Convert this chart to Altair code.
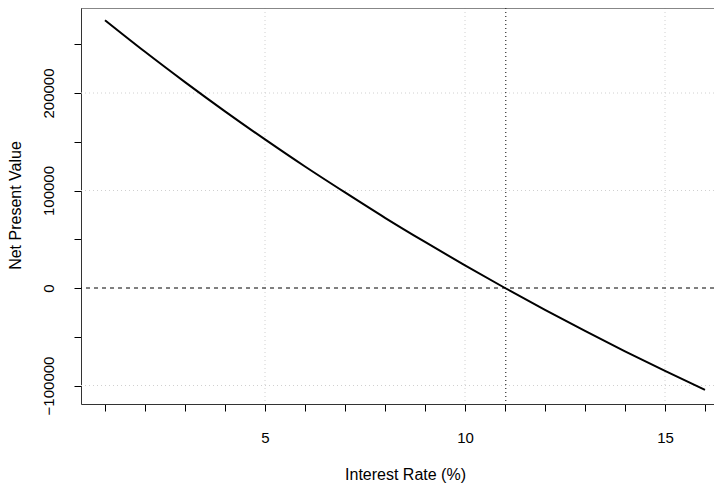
import altair as alt
import pandas as pd

# Data
rates = list(range(1, 17))
npv = [274700, 242300, 211200, 181200, 152400, 124600, 98000, 72000,
       47200, 23200, 0, -22400, -44000, -64900, -85000, -104500]
irr = [11.02]
zero_line = [0]
x_tick_values = list(range(1, 17))
y_tick_values = [-100000, -50000, 0, 50000, 100000, 150000, 200000, 250000]
x_grid = [5, 10, 15]
y_grid = [-100000, 100000, 200000]

W, H = 633, 396
FONT = "Liberation Sans"
LFS = 15
TFS = 16

df = pd.DataFrame({"rate": rates, "npv": npv})
xs = alt.Scale(domain=[0.4, 0.4 + W / 40.0], nice=False, zero=False)
ys = alt.Scale(domain=[-118970, 287180], nice=False, zero=False)

x_axis = alt.Axis(
    values=x_tick_values, grid=False, title="Interest Rate (%)",
    labelExpr="datum.value % 5 == 0 ? datum.label : ''",
    tickSize=7, tickColor="black", domainColor="#333333",
    labelFont=FONT, labelFontSize=LFS, labelColor="black",
    labelBaseline="middle", labelPadding=26, labelFlush=False,
    titleFont=FONT, titleFontSize=TFS, titleFontWeight="normal",
    titleColor="black", titleX=324, titleY=75,
    titleBaseline="alphabetic", titleAlign="center")

y_axis = alt.Axis(
    values=y_tick_values, grid=False, title="Net Present Value",
    format="d",
    labelExpr="datum.value % 100000 == 0 ? datum.label : ''",
    tickSize=7, tickColor="black", domainColor="#333333",
    labelFont=FONT, labelFontSize=LFS, labelColor="black",
    labelAngle=-90, labelAlign="center", labelBaseline="middle",
    labelPadding=26, labelFlush=False,
    titleFont=FONT, titleFontSize=TFS, titleFontWeight="normal",
    titleColor="black", titleAngle=-90, titleX=-66, titleY=197,
    titleBaseline="middle", titleAlign="center")

vgrid = alt.Chart(pd.DataFrame({"rate": x_grid})).mark_rule(
    color="#d0d0d0", strokeDash=[1, 3], strokeWidth=1
).encode(x=alt.X("rate:Q", scale=xs, axis=x_axis))

hgrid = alt.Chart(pd.DataFrame({"npv": y_grid})).mark_rule(
    color="#d0d0d0", strokeDash=[1, 3], strokeWidth=1
).encode(y=alt.Y("npv:Q", scale=ys, axis=y_axis))

hzero = alt.Chart(pd.DataFrame({"npv": zero_line})).mark_rule(
    color="black", strokeDash=[4, 4], strokeWidth=1
).encode(y=alt.Y("npv:Q", scale=ys, axis=y_axis))

virr = alt.Chart(pd.DataFrame({"rate": irr})).mark_rule(
    color="black", strokeDash=[1, 3], strokeWidth=1
).encode(x=alt.X("rate:Q", scale=xs, axis=x_axis))

top_border = alt.Chart(pd.DataFrame({"a": [0]})).mark_rule(
    color="#333333", strokeWidth=1
).encode(y=alt.value(0), x=alt.value(0), x2=alt.value(W))

line = alt.Chart(df).mark_line(
    color="black", strokeWidth=2, interpolate="monotone", clip=True
).encode(
    x=alt.X("rate:Q", scale=xs, axis=x_axis),
    y=alt.Y("npv:Q", scale=ys, axis=y_axis),
)

chart = alt.layer(vgrid, hgrid, hzero, virr, line, top_border).properties(
    width=W, height=H,
    autosize=alt.AutoSizeParams(type="none"),
    padding={"left": 73, "top": 0, "right": 0, "bottom": 79},
).configure_view(stroke=None).configure(background="white")

chart.save("out.html", embed_options={"renderer": "svg", "actions": False})
